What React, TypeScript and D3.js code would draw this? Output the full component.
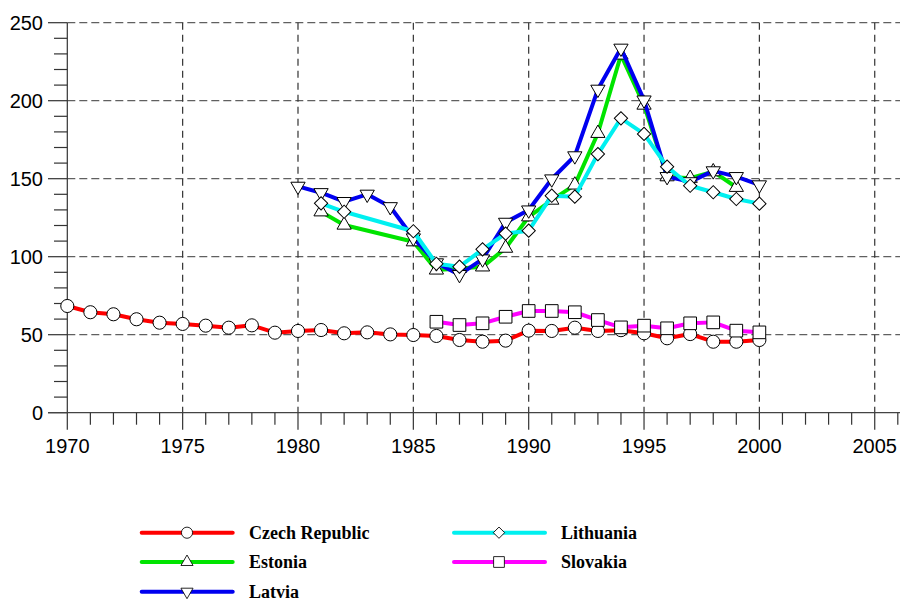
import { useRef, useEffect } from 'react'
import * as d3 from 'd3'

// values
const czechYears = d3.range(1970, 2001)
const czech = [68.4, 64.4, 63.1, 59.9, 57.7, 56.9, 55.8, 54.5, 56.0, 51.3, 52.4, 53.0, 50.9, 51.5, 50.2, 49.8,
  49.2, 46.6, 45.5, 46.2, 52.6, 52.4, 54.5, 52.4, 52.9, 50.9, 47.7, 50.4, 45.5, 45.5, 46.6]

const estoniaYears = [1981, 1982, 1985, 1986, 1987, 1988, 1989, 1990, 1991, 1992, 1993, 1994, 1995, 1996, 1997, 1998, 1999]
const estonia = [128.8, 120.3, 109.6, 91.5, 92.5, 93.5, 105.5, 125.6, 136.3, 146, 179.1, 229.3, 197.2, 151.3, 150.3, 154.5, 144.5]

const latviaYears = d3.range(1980, 2001)
const latvia = [145.1, 141, 135.3, 140, 132, 112, 96, 88.5, 98.5, 122, 129.9, 149.8, 164.6, 207.3, 233.6, 200.4,
  151.3, 148, 155, 151.3, 146]

const lithuaniaYears = [1981, 1982, 1985, 1986, 1987, 1988, 1989, 1990, 1991, 1992, 1993, 1994, 1995, 1996, 1997, 1998, 1999, 2000]
const lithuania = [134.2, 128.8, 116.3, 95.5, 93.6, 104.7, 114.8, 116.7, 139.1, 138.5, 165.8, 188.7, 178.7, 157.7,
  145.5, 141.3, 137, 134]

const slovakiaYears = d3.range(1986, 2001)
const slovakia = [58.3, 56.2, 57.3, 61.5, 65.2, 65.2, 64.4, 59.4, 54.7, 55.8, 54.1, 57.3, 57.9, 52.6, 51.5]

const xTicks = [1970, 1975, 1980, 1985, 1990, 1995, 2000, 2005]
const yTicks = [0, 50, 100, 150, 200, 250]

const series = [
  { name: 'Czech Republic', years: czechYears, values: czech, color: '#ff0000', marker: 'circle' },
  { name: 'Estonia', years: estoniaYears, values: estonia, color: '#00e400', marker: 'up' },
  { name: 'Latvia', years: latviaYears, values: latvia, color: '#0000f0', marker: 'down' },
  { name: 'Lithuania', years: lithuaniaYears, values: lithuania, color: '#00f0f0', marker: 'diamond' },
  { name: 'Slovakia', years: slovakiaYears, values: slovakia, color: '#ff00ff', marker: 'square' },
]

function markerPath(kind: string) {
  if (kind === 'circle') return d3.symbol(d3.symbolCircle, 135)()
  if (kind === 'square') return d3.symbol(d3.symbolSquare, 160)()
  if (kind === 'diamond') return d3.symbol(d3.symbolSquare, 88)()
  return d3.symbol(d3.symbolTriangle, 88)()
}
function markerRotate(kind: string) {
  if (kind === 'down') return 180
  if (kind === 'diamond') return 45
  return 0
}

function App() {
  const ref = useRef<SVGSVGElement>(null)

  useEffect(() => {
    const svg = d3.select(ref.current)
    svg.selectAll('*').remove()

    const x = d3.scaleLinear().domain([1970, 2006]).range([67.3, 897.8])
    const y = d3.scaleLinear().domain([0, 250]).range([412.7, 22.7])

    // grid
    svg.append('g').selectAll('line').data(yTicks.filter(d => d > 0)).enter().append('line')
      .attr('x1', x(1970)).attr('x2', 900).attr('y1', d => y(d)).attr('y2', d => y(d))
      .attr('stroke', '#606060').attr('stroke-width', 1.3).attr('stroke-dasharray', '8,4')
    svg.append('g').selectAll('line').data(xTicks.filter(d => d > 1970)).enter().append('line')
      .attr('x1', d => x(d)).attr('x2', d => x(d)).attr('y1', y(250)).attr('y2', y(0))
      .attr('stroke', '#333').attr('stroke-width', 1.2).attr('stroke-dasharray', '7,5')

    // y axis
    const yAxis = svg.append('g')
    yAxis.append('line').attr('x1', x(1970)).attr('x2', x(1970)).attr('y1', y(250)).attr('y2', y(0))
      .attr('stroke', '#333').attr('stroke-width', 1.2)
    yAxis.selectAll('.minor').data(d3.range(0, 251, 10)).enter().append('line')
      .attr('x1', d => (d % 50 === 0 ? 48 : 54)).attr('x2', x(1970))
      .attr('y1', d => y(d)).attr('y2', d => y(d))
      .attr('stroke', '#333').attr('stroke-width', 1.2)
    yAxis.selectAll('text').data(yTicks).enter().append('text')
      .attr('x', 43).attr('y', d => y(d) + 7).attr('text-anchor', 'end')
      .style('font', '20px "Liberation Sans", Arial, sans-serif').attr('fill', '#000')
      .text(d => d)

    // x axis
    const xAxis = svg.append('g')
    xAxis.append('line').attr('x1', 48).attr('x2', 900).attr('y1', y(0)).attr('y2', y(0))
      .attr('stroke', '#444').attr('stroke-width', 1.2)
    xAxis.selectAll('.tick').data(d3.range(1970, 2007)).enter().append('line')
      .attr('x1', d => x(d)).attr('x2', d => x(d))
      .attr('y1', y(0)).attr('y2', d => y(0) + (d % 5 === 0 ? 17 : 12))
      .attr('stroke', '#333').attr('stroke-width', 1.2)
    xAxis.selectAll('text').data(xTicks).enter().append('text')
      .attr('x', d => x(d)).attr('y', 453).attr('text-anchor', 'middle')
      .style('font', '20px "Liberation Sans", Arial, sans-serif').attr('fill', '#000')
      .text(d => d)

    // series
    const line = d3.line<[number, number]>().x(d => x(d[0])).y(d => y(d[1]))
    series.forEach(s => {
      const pts: [number, number][] = s.years.map((yr, i) => [yr, s.values[i]])
      svg.append('path').datum(pts).attr('d', line)
        .attr('fill', 'none').attr('stroke', s.color).attr('stroke-width', 4).attr('stroke-linejoin', 'round')
      svg.append('g').selectAll('path').data(pts).enter().append('path')
        .attr('d', markerPath(s.marker))
        .attr('transform', d => `translate(${x(d[0])},${y(d[1])}) rotate(${markerRotate(s.marker)})`)
        .attr('fill', '#fff').attr('stroke', '#000').attr('stroke-width', 1)
    })

    // legend
    const cols = [{ lx: 141.7, mx: 187, tx: 249 }, { lx: 454, mx: 499, tx: 561 }]
    const rows = [532.7, 562, 591.7]
    series.forEach((s, i) => {
      const c = cols[i < 3 ? 0 : 1]
      const ry = rows[i < 3 ? i : i - 3]
      const g = svg.append('g')
      g.append('line').attr('x1', c.lx).attr('x2', c.lx + 91).attr('y1', ry).attr('y2', ry)
        .attr('stroke', s.color).attr('stroke-width', 4).attr('stroke-linecap', 'round')
      g.append('path').attr('d', markerPath(s.marker))
        .attr('transform', `translate(${c.mx},${ry}) rotate(${markerRotate(s.marker)}) scale(0.85)`)
        .attr('fill', '#fff').attr('stroke', '#000').attr('stroke-width', 1)
      g.append('text').attr('x', c.tx).attr('y', ry + 6)
        .style('font', 'bold 18px "Liberation Serif", "Times New Roman", serif').attr('fill', '#000')
        .text(s.name)
    })
  }, [])

  return (
    <svg ref={ref} width={901} height={601}
      style={{ position: 'absolute', left: 0, top: 0, background: '#fff' }} />
  )
}

export default App
